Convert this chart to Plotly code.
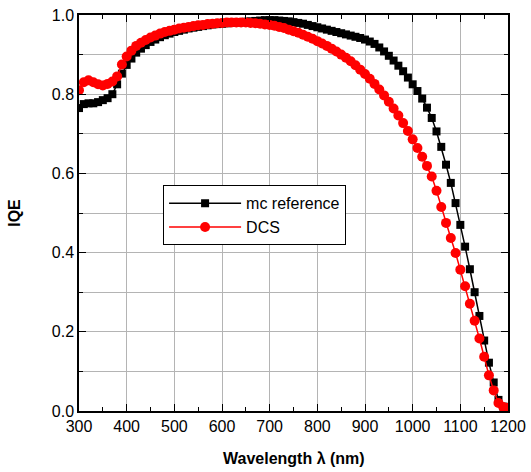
import plotly.graph_objects as go

wavelength = list(range(300, 1201, 10))

mc_reference = [
    0.765, 0.775, 0.777, 0.777, 0.780, 0.785, 0.790, 0.800, 0.825, 0.852,
    0.874, 0.890, 0.905, 0.915, 0.924, 0.932, 0.938, 0.944, 0.949, 0.953,
    0.957, 0.960, 0.963, 0.966, 0.968, 0.970, 0.972, 0.974, 0.976, 0.977,
    0.978, 0.979, 0.980, 0.981, 0.982, 0.983, 0.984, 0.985, 0.986, 0.987,
    0.987, 0.987, 0.986, 0.985, 0.984, 0.982, 0.980, 0.978, 0.975, 0.972,
    0.969, 0.966, 0.963, 0.960, 0.957, 0.954, 0.951, 0.948, 0.945, 0.942,
    0.938, 0.933, 0.927, 0.918, 0.908, 0.897, 0.885, 0.872, 0.858, 0.842,
    0.825, 0.808, 0.789, 0.766, 0.740, 0.706, 0.667, 0.622, 0.576, 0.525,
    0.470, 0.415, 0.358, 0.300, 0.240, 0.178, 0.122, 0.072, 0.028, 0.011,
    0.010,
]

dcs = [
    0.810, 0.830, 0.835, 0.830, 0.825, 0.822, 0.826, 0.832, 0.845, 0.875,
    0.895, 0.910, 0.922, 0.930, 0.937, 0.943, 0.948, 0.953, 0.957, 0.960,
    0.963, 0.966, 0.968, 0.970, 0.972, 0.974, 0.975, 0.977, 0.978, 0.979,
    0.980, 0.981, 0.981, 0.981, 0.981, 0.981, 0.980, 0.979, 0.978, 0.976,
    0.975, 0.973, 0.970, 0.967, 0.963, 0.959, 0.955, 0.950, 0.945, 0.940,
    0.934, 0.928, 0.922, 0.915, 0.908, 0.900, 0.892, 0.883, 0.873, 0.862,
    0.851, 0.839, 0.826, 0.812, 0.797, 0.781, 0.764, 0.746, 0.727, 0.707,
    0.686, 0.664, 0.642, 0.619, 0.592, 0.556, 0.515, 0.475, 0.437, 0.399,
    0.357, 0.315, 0.271, 0.228, 0.183, 0.137, 0.090, 0.052, 0.020, 0.010,
    0.008,
]

x_ticks = [300, 400, 500, 600, 700, 800, 900, 1000, 1100, 1200]
y_ticks = [0.0, 0.2, 0.4, 0.6, 0.8, 1.0]

FONT = "Liberation Sans, Arial, sans-serif"
GRID = "#b4b4b4"

fig = go.Figure()
fig.add_trace(go.Scatter(
    x=wavelength, y=mc_reference, name="mc reference", mode="lines+markers",
    line=dict(color="black", width=1.5),
    marker=dict(symbol="square", size=8, color="black"),
))
fig.add_trace(go.Scatter(
    x=wavelength, y=dcs, name="DCS", mode="lines+markers",
    line=dict(color="#ff0000", width=1.5),
    marker=dict(symbol="circle", size=10, color="#ff0000"),
))

fig.update_layout(
    width=531, height=472,
    margin=dict(l=79, r=23, t=15, b=61, autoexpand=False),
    paper_bgcolor="white", plot_bgcolor="white",
    font=dict(family=FONT, size=16, color="black"),
    showlegend=True,
    legend=dict(
        x=0.196, y=0.57, xanchor="left", yanchor="top",
        bordercolor="black", borderwidth=1, bgcolor="white",
        font=dict(family=FONT, size=16, color="black"),
        itemwidth=72, tracegroupgap=0,
    ),
    xaxis=dict(
        range=[300, 1200], tickvals=x_ticks,
        ticktext=[str(v) for v in x_ticks],
        showgrid=True, gridcolor=GRID, gridwidth=1,
        ticks="inside", ticklen=7, tickwidth=1, tickcolor="black",
        showline=True, linecolor="black", linewidth=1.5, mirror="allticks",
        zeroline=False, automargin=False, ticklabeloverflow="allow",
        minor=dict(dtick=50, tick0=300, ticks="inside", ticklen=4, tickcolor="black", showgrid=False),
        tickfont=dict(size=16),
    ),
    yaxis=dict(
        range=[0, 1.0], tickvals=y_ticks,
        ticktext=["%.1f" % v for v in y_ticks],
        showgrid=True, gridcolor=GRID, gridwidth=1,
        ticks="inside", ticklen=7, tickwidth=1, tickcolor="black",
        showline=True, linecolor="black", linewidth=1.5, mirror="allticks",
        zeroline=False, automargin=False, ticklabeloverflow="allow",
        minor=dict(dtick=0.1, tick0=0, ticks="inside", ticklen=4, tickcolor="black",
                   showgrid=True, gridcolor=GRID, gridwidth=1),
        tickfont=dict(size=16),
    ),
    annotations=[
        dict(text="<b>Wavelength λ (nm)</b>", xref="paper", yref="paper",
             x=0.5, y=-0.121, xanchor="center", yanchor="middle",
             showarrow=False, font=dict(size=16)),
        dict(text="<b>IQE</b>", xref="paper", yref="paper",
             x=-0.152, y=0.5, xanchor="center", yanchor="middle",
             textangle=-90, showarrow=False, font=dict(size=16)),
    ],
)

fig.write_html("out.html", config={"displayModeBar": False},
               post_script="document.body.style.margin='0';")
